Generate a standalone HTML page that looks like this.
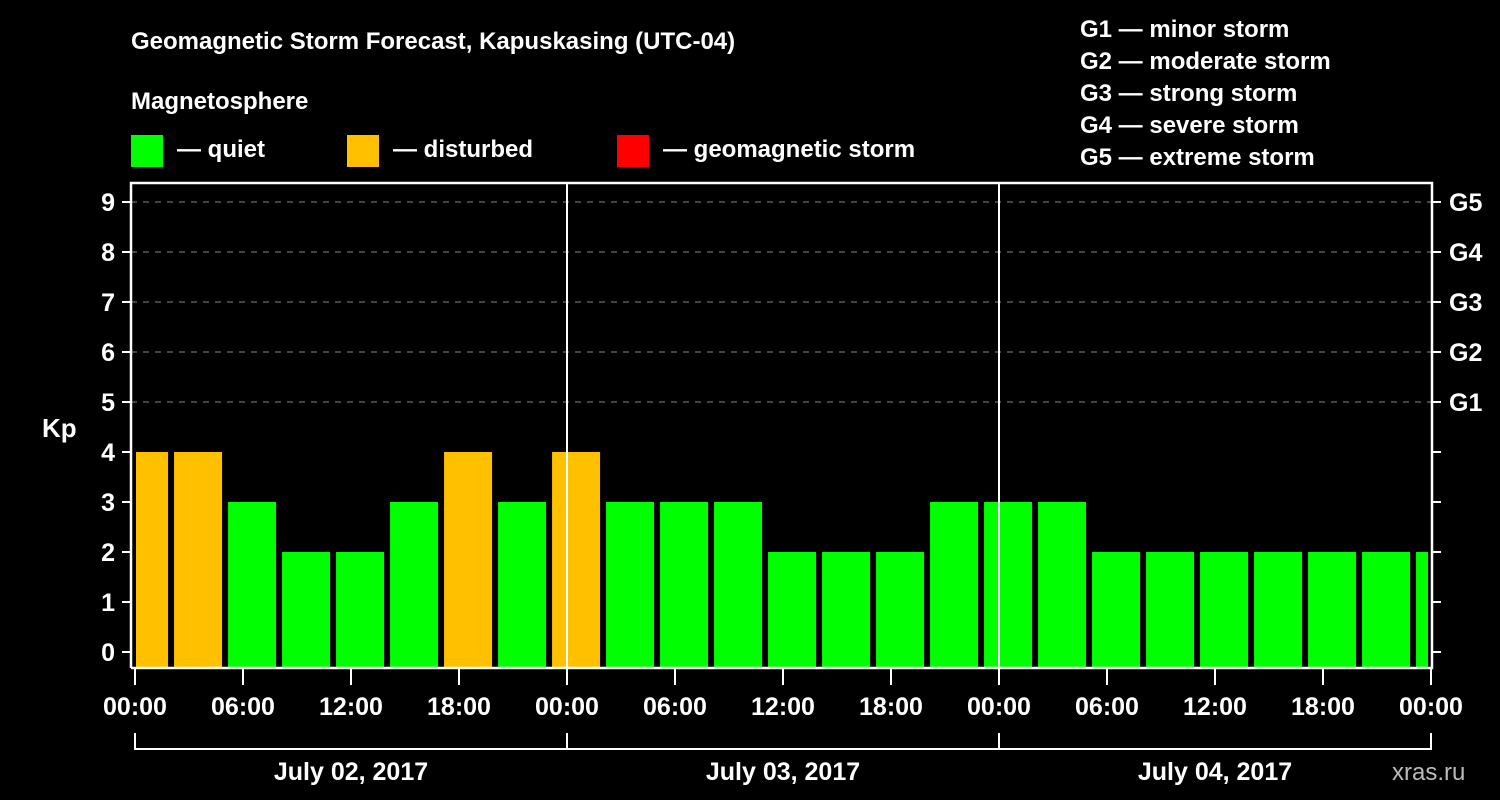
<!DOCTYPE html>
<html><head><meta charset="utf-8"><style>
body{margin:0;background:#000;}
svg{display:block;font-family:"Liberation Sans",sans-serif;font-weight:bold;}
</style></head><body>
<svg id="chart" width="1500" height="800" viewBox="0 0 1500 800">
<rect width="1500" height="800" fill="#000"/>
<text x="131" y="49" fill="#fff" font-size="24">Geomagnetic Storm Forecast, Kapuskasing (UTC-04)</text>
<text x="131" y="109" fill="#fff" font-size="24">Magnetosphere</text>
<rect x="131" y="135" width="32" height="32" fill="#00ff00"/>
<text x="177" y="157" fill="#fff" font-size="24">— quiet</text>
<rect x="347" y="135" width="32" height="32" fill="#ffc000"/>
<text x="393" y="157" fill="#fff" font-size="24">— disturbed</text>
<rect x="617" y="135" width="32" height="32" fill="#ff0000"/>
<text x="663" y="157" fill="#fff" font-size="24">— geomagnetic storm</text>
<g fill="#fff" font-size="24">
<text x="1080" y="37">G1 — minor storm</text>
<text x="1080" y="69">G2 — moderate storm</text>
<text x="1080" y="101">G3 — strong storm</text>
<text x="1080" y="133">G4 — severe storm</text>
<text x="1080" y="165">G5 — extreme storm</text>
</g>
<text x="42" y="437" fill="#fff" font-size="26">Kp</text>
<g id="plot"></g>
<text x="1392" y="780" fill="#bbb" font-size="24" font-weight="normal">xras.ru</text>
</svg>
<script>
const kpValues=[4,4,3,2,2,3,4,3,4,3,3,3,2,2,2,3,3,3,2,2,2,2,2,2,2];
const yTicks=[0,1,2,3,4,5,6,7,8,9];
const gLabels=["G1","G2","G3","G4","G5"];
const xTickLabels=["00:00","06:00","12:00","18:00","00:00","06:00","12:00","18:00","00:00","06:00","12:00","18:00","00:00"];
const dayLabels=["July 02, 2017","July 03, 2017","July 04, 2017"];
const NS="http://www.w3.org/2000/svg";
const L=131,R=1432,T=183,B=668,X0=135,X1=1431,HOURS=72;
const x=h=>X0+h*(X1-X0)/HOURS;
const y=v=>652-v*50;
const g=document.getElementById('plot');
function mk(t,a,p){const e=document.createElementNS(NS,t);for(const k in a)e.setAttribute(k,a[k]);(p||g).appendChild(e);return e;}
// grid
for(let v=5;v<=9;v++){const e=mk('line',{x1:L,x2:R,y1:y(v),y2:y(v),stroke:'#888','stroke-dasharray':'6,6','stroke-width':1});

}
// bars
kpValues.forEach((v,k)=>{let a=x(3*k-0.83),b=a+48;a=Math.max(a,X0+1);b=Math.min(b,1428);
const e=mk('rect',{x:a,y:y(v),width:b-a,height:B-y(v),fill:v>=5?'#ff0000':(v>=4?'#ffc000':'#00ff00')});

});
// frame
const f=mk('path',{d:`M${L},${B}V${T}H${R}V${B}H${L}`,stroke:'#fff','stroke-width':2.5,fill:'none'});


[1,2].forEach(d=>{const e=mk('line',{x1:x(24*d),x2:x(24*d),y1:T,y2:B,stroke:'#fff','stroke-width':2});

});
yTicks.forEach(v=>{
const t1=mk('line',{x1:122,x2:L,y1:y(v),y2:y(v),stroke:'#fff','stroke-width':2});


const t2=mk('line',{x1:R,x2:1441,y1:y(v),y2:y(v),stroke:'#fff','stroke-width':2});


const tx=mk('text',{x:115,y:y(v)+9,fill:'#fff','font-size':25,'text-anchor':'end'});tx.textContent=v;

});
gLabels.forEach((s,i)=>{const tx=mk('text',{x:1449,y:y(5+i)+9,fill:'#fff','font-size':25});tx.textContent=s;

});
xTickLabels.forEach((s,i)=>{const xx=x(6*i);
const t=mk('line',{x1:xx,x2:xx,y1:B,y2:685,stroke:'#fff','stroke-width':2});


const tx=mk('text',{x:xx,y:715,fill:'#fff','font-size':25,'text-anchor':'middle'});tx.textContent=s;

});
const br=mk('path',{d:`M${x(0)},733V749H${x(72)}V733M${x(24)},733V749M${x(48)},733V749`,stroke:'#fff','stroke-width':2,fill:'none'});


dayLabels.forEach((s,i)=>{const tx=mk('text',{x:x(24*i+12),y:780,fill:'#fff','font-size':25,'text-anchor':'middle'});tx.textContent=s;

});
</script>
</body></html>
